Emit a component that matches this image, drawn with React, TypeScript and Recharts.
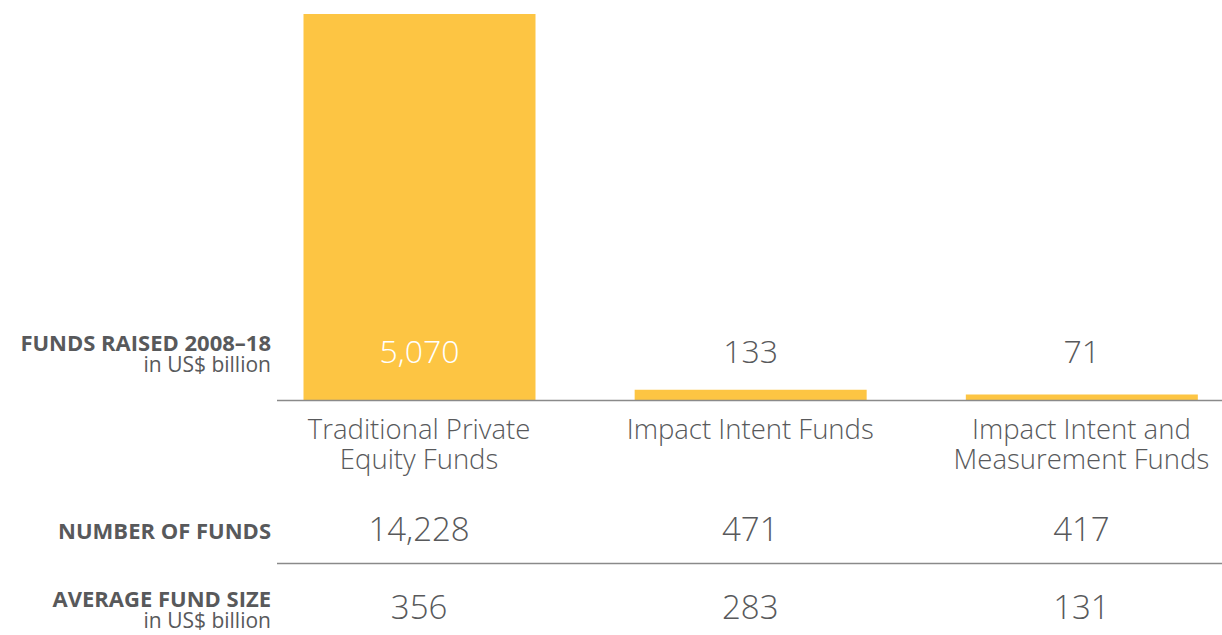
import React from "react";
import { BarChart, Bar, XAxis, YAxis, LabelList } from "recharts";

const categories = [
  "Traditional Private Equity Funds",
  "Impact Intent Funds",
  "Impact Intent and Measurement Funds",
];
const categoryLines = [
  ["Traditional Private", "Equity Funds"],
  ["Impact Intent Funds"],
  ["Impact Intent and", "Measurement Funds"],
];
const fundsRaised = [5070, 133, 71];
const numberOfFunds = [14228, 471, 417];
const avgFundSize = [356, 283, 131];

const FONT = "'Open Sans', Lato, sans-serif";
const GREY = "#58595b";
const BAR = "#fdc543";

const data = categories.map((name, i) => ({
  name,
  raised: fundsRaised[i],
  count: numberOfFunds[i],
  avg: avgFundSize[i],
}));

function CategoryTick(props: any) {
  const { x, y, payload } = props;
  const i = payload.index;
  const lines = categoryLines[i];
  return (
    <g fontFamily={FONT} fill={GREY} textAnchor="middle">
      <text x={x} y={y + 28} dominantBaseline="central" fontSize={27.5} fontWeight={300}>
        {lines.map((l, k) => (
          <tspan key={k} x={x} dy={k === 0 ? 0 : 30}>
            {l}
          </tspan>
        ))}
      </text>
      <text x={x} y={y + 128} dominantBaseline="central" fontSize={33} fontWeight={300}>
        {numberOfFunds[i].toLocaleString("en-US")}
      </text>
      <text x={x} y={y + 206} dominantBaseline="central" fontSize={33} fontWeight={300}>
        {avgFundSize[i].toLocaleString("en-US")}
      </text>
    </g>
  );
}

function ValueLabel(props: any) {
  const { x, y, width, height, value, index } = props;
  const base = y + height;
  return (
    <text
      x={x + width / 2}
      y={base - 50}
      textAnchor="middle"
      dominantBaseline="central"
      fontFamily={FONT}
      fontSize={32}
      fontWeight={300}
      fill={index === 0 ? "#ffffff" : GREY}
    >
      {Number(value).toLocaleString("en-US")}
    </text>
  );
}

function RowLabel({ y, title, sub }: { y: number; title: string; sub?: string }) {
  return (
    <text x={271} y={y} dominantBaseline="central" textAnchor="end" fontFamily={FONT} fill={GREY}>
      <tspan x={271} fontSize={22} fontWeight={700}>{title}</tspan>
      {sub && (
        <tspan x={271} dy={22} fontSize={21} fontWeight={400}>{sub}</tspan>
      )}
    </text>
  );
}

export default function App() {
  return (
    <div style={{ position: "absolute", left: 0, top: 0, width: 1222, height: 635, overflow: "hidden", background: "#fff" }}>
      <BarChart width={1247} height={635} data={data} margin={{ top: 14, right: 0, bottom: 0, left: 253.5 }}>
        <YAxis hide domain={[0, 5070]} />
        <XAxis
          dataKey="name"
          height={235}
          axisLine={false}
          tickLine={false}
          tickSize={0}
          tickMargin={0}
          interval={0}
          tick={<CategoryTick />}
        />
        <Bar dataKey="raised" fill={BAR} barSize={232} isAnimationActive={false}>
          <LabelList dataKey="raised" content={<ValueLabel />} />
        </Bar>
      </BarChart>
      <svg width={1222} height={635} style={{ position: "absolute", left: 0, top: 0, pointerEvents: "none" }}>
        <line x1={277} x2={1222} y1={400.5} y2={400.5} stroke="#8a8a8a" strokeWidth={1.5} />
        <line x1={277} x2={1222} y1={563.5} y2={563.5} stroke="#8a8a8a" strokeWidth={1.5} />
        <RowLabel y={342} title="FUNDS RAISED 2008–18" sub="in US$ billion" />
        <RowLabel y={530} title="NUMBER OF FUNDS" />
        <RowLabel y={598} title="AVERAGE FUND SIZE" sub="in US$ billion" />
      </svg>
    </div>
  );
}
